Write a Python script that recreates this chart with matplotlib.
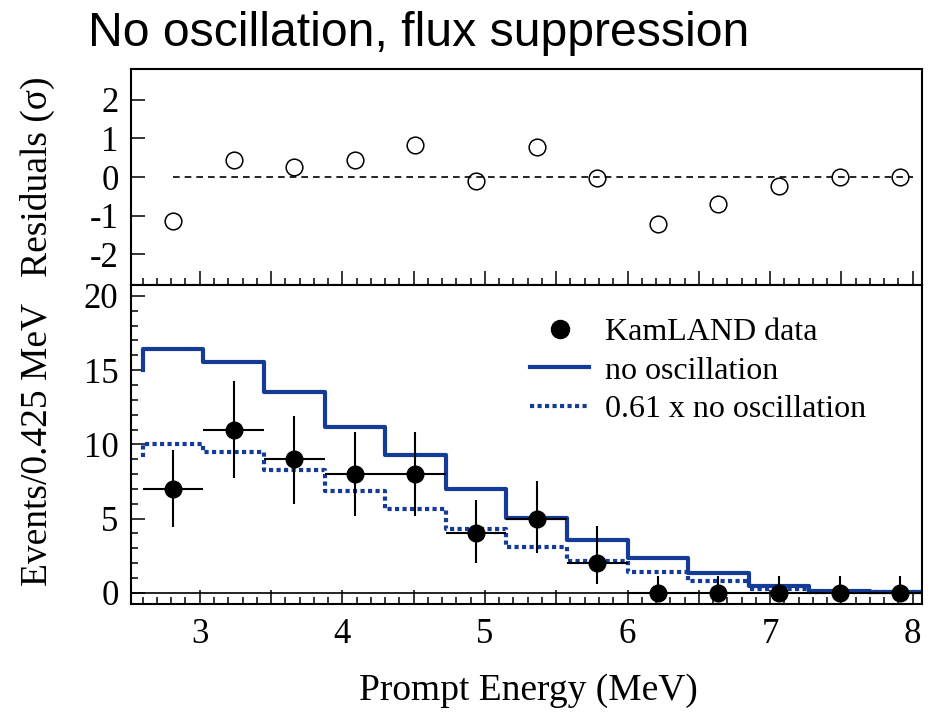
import numpy as np
import matplotlib
matplotlib.use("Agg")
import matplotlib.pyplot as plt
from matplotlib.lines import Line2D
from matplotlib.ticker import MultipleLocator, FixedLocator, FuncFormatter

# Prompt-energy bins (MeV), 0.425 MeV wide, starting at the 2.6 MeV threshold
bin_edges = [2.6, 3.025, 3.45, 3.875, 4.3, 4.725, 5.15, 5.575, 6.0, 6.425,
             6.85, 7.275, 7.7, 8.125]
energy = [2.8125, 3.2375, 3.6625, 4.0875, 4.5125, 4.9375, 5.3625, 5.7875,
          6.2125, 6.6375, 7.0625, 7.4875, 7.9125]
half_width = 0.2125

# Observed events per bin with asymmetric errors
events = [7, 11, 9, 8, 8, 4, 5, 2, 0, 0, 0, 0, 0]
err_low = [2.6, 3.3, 3.0, 2.8, 2.8, 2.0, 2.3, 1.4, 0, 0, 0, 0, 0]
err_high = [2.6, 3.3, 2.9, 2.8, 2.8, 2.25, 2.5, 2.5, 1.1, 1.1, 1.1, 1.1, 1.1]

# Residuals of data vs. scaled expectation (sigma)
residuals = [-1.15, 0.45, 0.26, 0.43, 0.83, -0.10, 0.78, -0.03, -1.22,
             -0.69, -0.23, 0.0, 0.0]
residual_line_end = 8.0

# Expected spectrum without oscillation
no_osc = [16.43, 15.58, 13.55, 11.19, 9.28, 6.99, 5.05, 3.55, 2.32, 1.31,
          0.42, 0.12, 0.05]
no_osc_below = 15.0   # expectation just below threshold
suppression = 0.61

BLUE = "#143c96"

plt.rcParams["font.family"] = ["Liberation Serif", "DejaVu Serif"]
plt.rcParams["axes.unicode_minus"] = False

fig = plt.figure(figsize=(9.3, 7.14), dpi=100)
left, width = 131 / 930, 791 / 930
ax_r = fig.add_axes([left, 1 - 285 / 714, width, 216 / 714])
ax = fig.add_axes([left, 1 - 604 / 714, width, 319 / 714])

xlim = (2.518, 8.065)

# --- residual panel ---
ax_r.plot(energy, residuals, "o", mfc="none", mec="black", ms=12, mew=1.1,
          zorder=3)
ax_r.hlines(0, energy[0], residual_line_end, colors="black", lw=1.2,
            linestyles=(0, (4, 3)))
ax_r.set_xlim(*xlim)
ax_r.set_ylim(-2.8, 2.8)
ax_r.yaxis.set_major_locator(FixedLocator([-2, -1, 0, 1, 2]))
ax_r.xaxis.set_major_locator(MultipleLocator(0.5))
ax_r.xaxis.set_minor_locator(MultipleLocator(0.1))
ax_r.tick_params(axis="x", labelbottom=False)

# --- spectrum panel ---
xs = np.r_[bin_edges[0], bin_edges]
ys = np.r_[no_osc_below, no_osc, no_osc[-1]]
ax.axhline(0, color="black", lw=1.2, zorder=1)
ax.step(xs, ys, where="post", color=BLUE, lw=3, zorder=2)
ax.step(xs, suppression * ys, where="post", color=BLUE, lw=3,
        ls=(0, (1, 0.8)), zorder=2)
ax.errorbar(energy, events, yerr=[err_low, err_high], xerr=half_width,
            fmt="o", color="black", ms=12, elinewidth=1.5, capsize=0,
            zorder=4)
ax.set_xlim(*xlim)
ax.set_ylim(-0.76, 20.74)
ax.yaxis.set_major_locator(MultipleLocator(5))
ax.yaxis.set_minor_locator(MultipleLocator(1))
ax.xaxis.set_major_locator(MultipleLocator(0.5))
ax.xaxis.set_minor_locator(MultipleLocator(0.1))
ax.xaxis.set_major_formatter(FuncFormatter(
    lambda v, p: f"{int(round(v))}" if abs(v - round(v)) < 1e-6 else ""))

for a in (ax_r, ax):
    for s in a.spines.values():
        s.set_linewidth(1.5)
    a.tick_params(which="both", direction="in", top=False, right=False,
                  width=1.1, labelsize=25)
    a.tick_params(which="major", length=10)
    a.tick_params(which="minor", length=5)
    a.tick_params(axis="y", pad=9)
    a.tick_params(axis="x", pad=10)

handles = [
    Line2D([], [], marker="o", ls="none", color="black", ms=13),
    Line2D([], [], color=BLUE, lw=3),
    Line2D([], [], color=BLUE, lw=3, ls=(0, (1, 0.8))),
]
labels = ["KamLAND data", "no oscillation", "0.61 x no oscillation"]
ax.legend(handles, labels, loc="upper left", frameon=False, fontsize=23,
          bbox_to_anchor=(530 / 930, 1 - 318 / 714),
          bbox_transform=fig.transFigure, borderpad=0, borderaxespad=0,
          handlelength=1.85, handletextpad=0.5, labelspacing=0.28)

fig.text(37 / 930, 1 - 177 / 714, "Residuals (σ)", rotation=90,
         ha="center", va="center", fontsize=27)
fig.text(37 / 930, 1 - 445 / 714, "Events/0.425 MeV", rotation=90,
         ha="center", va="center", fontsize=27)
fig.text(528 / 930, 1 - 691 / 714, "Prompt Energy (MeV)",
         ha="center", va="center", fontsize=27)

fig.text(88 / 930, 1 - 46 / 714, "No oscillation, flux suppression",
         ha="left", va="baseline", fontsize=34.7,
         family=["Liberation Sans", "DejaVu Sans"])

fig.savefig("out.png", dpi=100)
